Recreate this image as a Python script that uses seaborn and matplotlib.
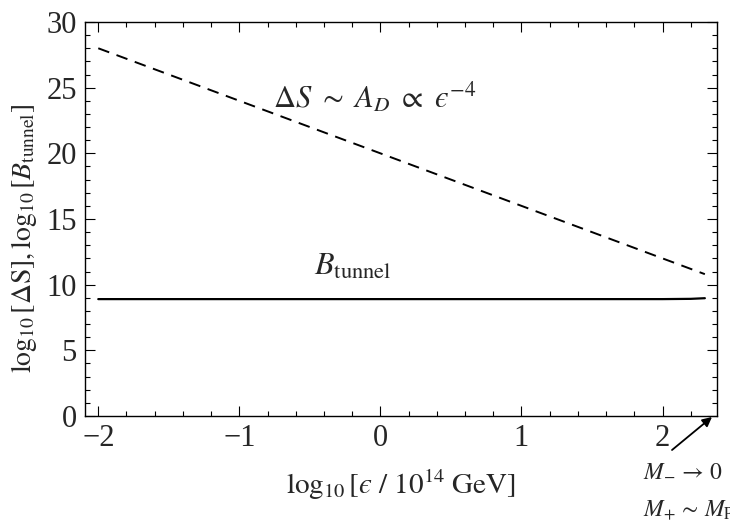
import numpy as np
import pandas as pd
import matplotlib
matplotlib.use("Agg")
import matplotlib.pyplot as plt
import seaborn as sns
from matplotlib.ticker import MultipleLocator

# data
log_eps = [-2.0, -1.0, 0.0, 1.0, 2.0, 2.3]
log_dS = [28.0, 24.0, 20.0, 16.0, 12.0, 10.8]
log_eps_b = [-2.0, -1.0, 0.0, 1.0, 2.0, 2.2, 2.3]
log_Btunnel = [8.9, 8.9, 8.9, 8.9, 8.9, 8.92, 8.97]

x_ticks = [-2, -1, 0, 1, 2]
y_ticks = [0, 5, 10, 15, 20, 25, 30]

sns.set_theme(style="ticks")
plt.rcParams["font.family"] = ["Liberation Serif", "DejaVu Serif"]
plt.rcParams["mathtext.fontset"] = "stix"

df_s = pd.DataFrame({"x": log_eps, "y": log_dS})
df_b = pd.DataFrame({"x": log_eps_b, "y": log_Btunnel})

fig = plt.figure(figsize=(7.3, 5.22), dpi=100)
ax = fig.add_axes([85 / 730, 1 - 416 / 522, (717 - 85) / 730, (416 - 22) / 522])

sns.lineplot(data=df_s, x="x", y="y", ax=ax, color="black", lw=1.4,
             linestyle=(0, (6, 4)), estimator=None)
sns.lineplot(data=df_b, x="x", y="y", ax=ax, color="black", lw=1.6,
             estimator=None)

ax.set_xlim(-2.094, 2.386)
ax.set_ylim(0, 30)
ax.set_xticks(x_ticks)
ax.set_yticks(y_ticks)
ax.set_xticklabels([f"{t}".replace("-", "\u2212") for t in x_ticks])
ax.set_yticklabels([str(t) for t in y_ticks])
ax.xaxis.set_minor_locator(MultipleLocator(0.2))
ax.yaxis.set_minor_locator(MultipleLocator(1))
ax.tick_params(which="both", direction="in", top=True, right=True,
               color="black", width=0.8)
ax.tick_params(which="major", length=7, labelsize=22, pad=6)
ax.tick_params(which="minor", length=3.5)
for s in ax.spines.values():
    s.set_color("black")
    s.set_linewidth(1.0)

eps = "\u03f5"
ax.set_xlabel(r"$\log_{10}[" + eps + r"\ /\ 10^{14}\ \mathrm{GeV}]$", fontsize=21, labelpad=10)
ax.set_ylabel(r"$\log_{10}[\Delta\mathrm{S}], \log_{10}[B_{\mathrm{tunnel}}]$", fontsize=20)
ax.yaxis.set_label_coords(-0.072, 0.45)

ax.text(-0.04, 24.3, r"$\Delta S\ \sim\ A_D\ \propto\ " + eps + r"^{-4}$", fontsize=22,
        ha="center", va="center")
ax.text(-0.2, 11.3, r"$B_{\mathrm{tunnel}}$", fontsize=23, ha="center", va="center")

ax.annotate("", xy=(712 / 730, 1 - 417 / 522), xycoords="figure fraction",
            xytext=(672 / 730, 1 - 450 / 522), textcoords="figure fraction",
            arrowprops=dict(arrowstyle="-|>", color="black", lw=1.3,
                            mutation_scale=14, shrinkA=0, shrinkB=0))
fig.text(643 / 730, 1 - 470 / 522, r"$M_{-}\,\to\,0$", fontsize=17, ha="left", va="center")
fig.text(643 / 730, 1 - 510 / 522, r"$M_{+}\,\sim\,M_{\mathrm{Pl}}$", fontsize=17,
         ha="left", va="center")

fig.savefig("out.png", dpi=100)
